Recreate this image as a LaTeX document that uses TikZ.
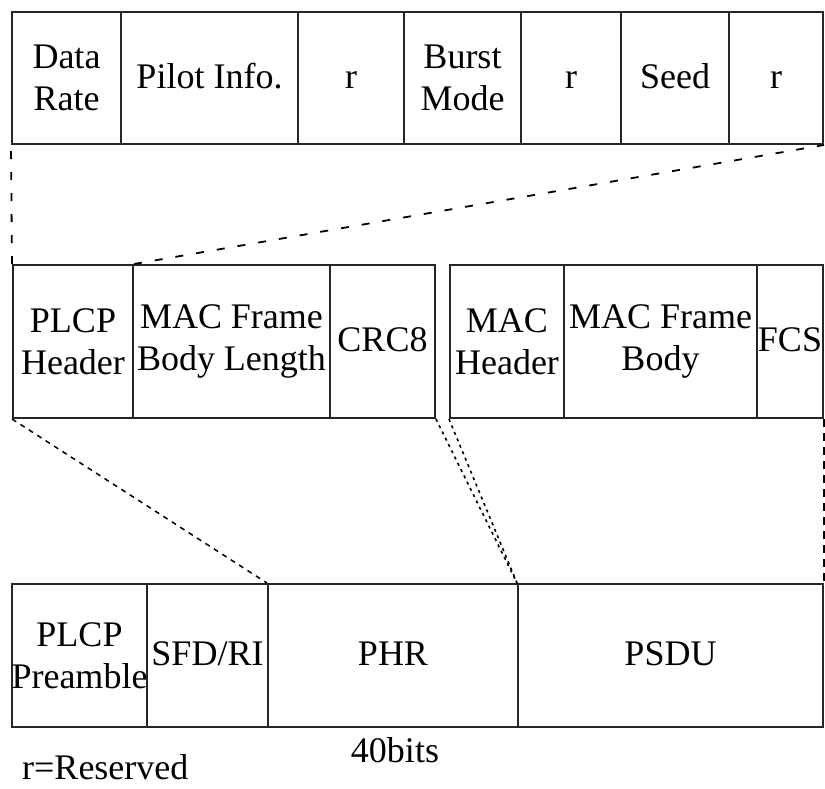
\documentclass[tikz,border=0pt]{standalone}
\usepackage{fontspec}
\setmainfont{Liberation Serif}
\begin{document}
\begin{tikzpicture}[x=1pt,y=-1pt,
  cell/.style={draw=black!85, line width=2pt, inner sep=0pt, align=center,
    font=\fontsize{36}{42}\selectfont},
  oneline/.style={text height=28pt, text depth=8pt},
  toprow/.style={cell, minimum height=132pt},
  midrow/.style={cell, minimum height=153pt},
  botrow/.style={cell, minimum height=143pt},
  longdash/.style={line width=1.8pt, dash pattern=on 8pt off 13pt},
  shortdash/.style={line width=1.5pt, dash pattern=on 5pt off 5pt},
  dotline/.style={line width=1.6pt, dash pattern=on 3pt off 4pt},
  sidedash/.style={line width=1.6pt, dash pattern=on 8pt off 6pt},
  note/.style={inner sep=0pt, font=\fontsize{36}{42}\selectfont}]
\useasboundingbox (0,0) rectangle (825,788);

% PHR header fields (top row)
\node[toprow, minimum width=109pt] (dr)  at (66.5,78)  {Data\\Rate};
\node[toprow, oneline, minimum width=177pt] (pi)  at (209.5,78) {Pilot Info.};
\node[toprow, oneline, minimum width=106pt] (r1)  at (351,78)   {r};
\node[toprow, minimum width=117pt] (bm)  at (462.5,78) {Burst\\Mode};
\node[toprow, oneline, minimum width=100pt] (r2)  at (571,78)   {r};
\node[toprow, oneline, minimum width=108pt] (sd)  at (675,78)   {Seed};
\node[toprow, oneline, minimum width=94pt]  (r3)  at (776,78)   {r};

% PHR and PSDU contents (middle row)
\node[midrow, minimum width=120pt] (ph)   at (73,341.5)  {PLCP\\Header};
\node[midrow, minimum width=197pt] (mfbl) at (231.5,341.5) {MAC Frame\\Body Length};
\node[midrow, oneline, minimum width=105pt] (crc)  at (382.5,341.5) {CRC8};
\node[midrow, minimum width=114pt] (mh)   at (507,341.5)  {MAC\\Header};
\node[midrow, minimum width=193pt] (mfb)  at (660.5,341.5) {MAC Frame\\Body};
\node[midrow, oneline, minimum width=66pt]  (fcs)  at (790,341.5)  {FCS};

% PPDU (bottom row)
\node[botrow, minimum width=135pt] (pp)   at (79.5,655.5) {PLCP\\Preamble};
\node[botrow, oneline, minimum width=121pt] (sfd)  at (207.5,655.5) {SFD/RI};
\node[botrow, oneline, minimum width=250pt] (phr)  at (393,655.5)  {PHR};
\node[botrow, oneline, minimum width=305pt] (psdu) at (670.5,655.5) {PSDU};

% expansion lines
\draw[longdash] (ph.north west) -- (dr.south west);
\draw[longdash] (ph.north east) -- (r3.south east);
\draw[shortdash] (ph.south west) -- (phr.north west);
\draw[dotline] (crc.south east) -- (psdu.north west);
\draw[dotline] (mh.south west) -- (psdu.north west);
\draw[sidedash] (fcs.south east) -- (psdu.north east);

% labels below
\node[note, anchor=base] (bits) at (395,762) {40bits};
\node[note, anchor=base west] (legend) at (22,779) {r=Reserved};
\end{tikzpicture}
\end{document}
